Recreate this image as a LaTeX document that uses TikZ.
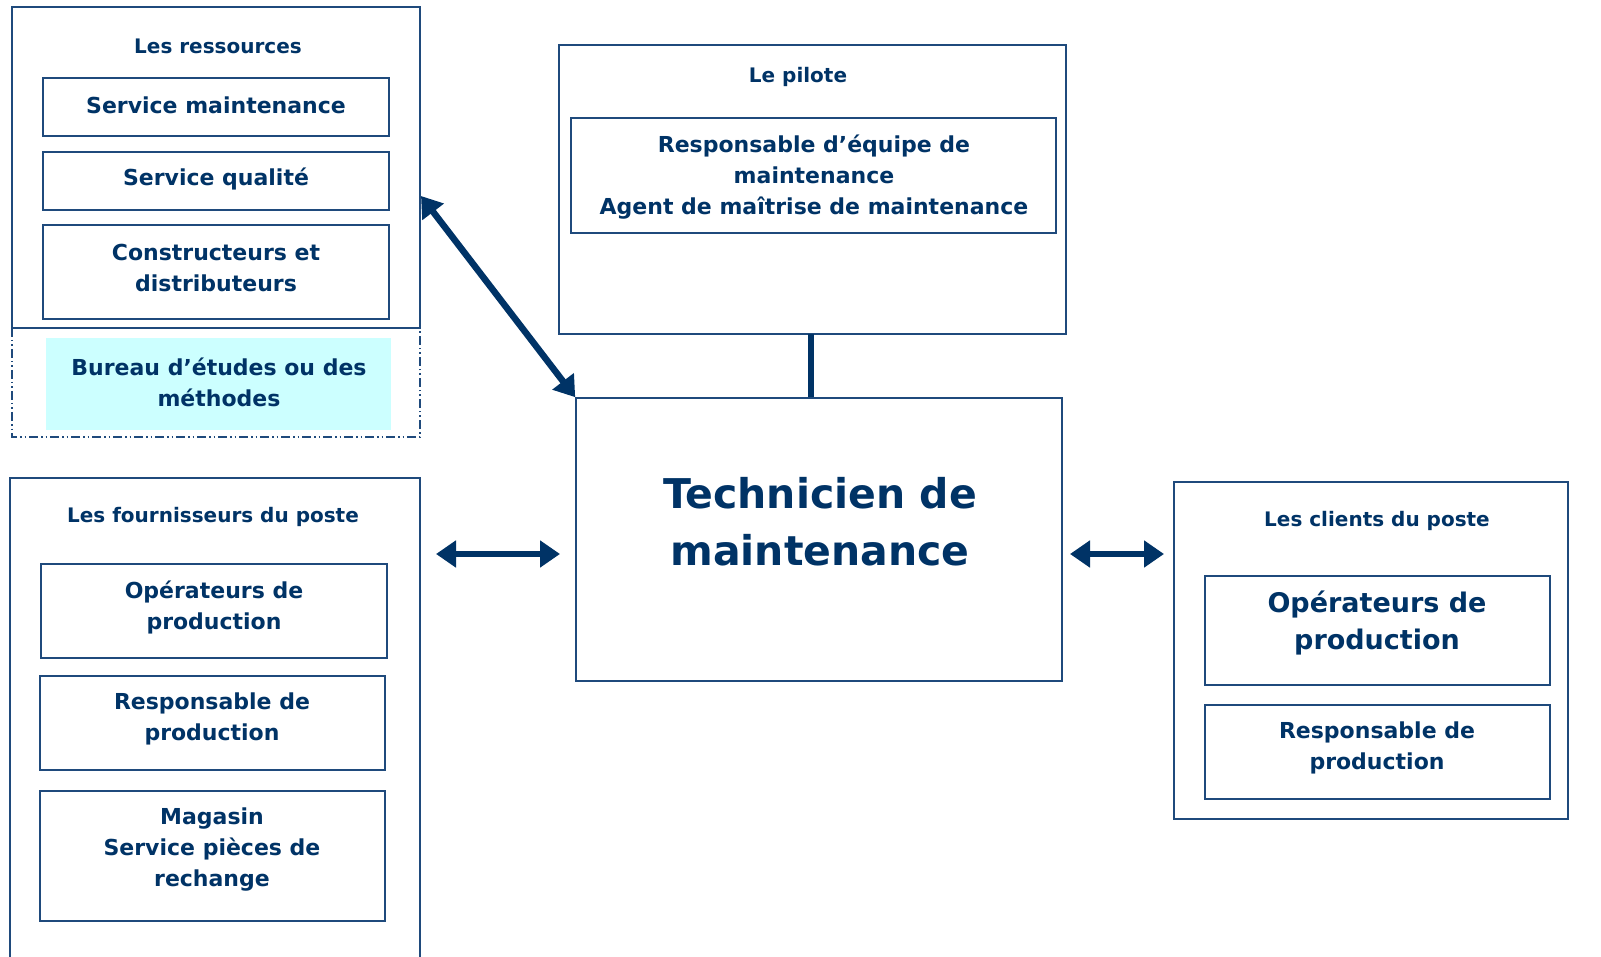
\documentclass[tikz,border=0pt]{standalone}
\usepackage{fontspec}
\setmainfont{DejaVu Sans}
\usetikzlibrary{arrows.meta}
\definecolor{navy}{HTML}{003366}
\definecolor{boxline}{HTML}{1F4A7C}
\definecolor{cyanfill}{HTML}{CCFFFF}
\tikzset{
  frame/.style={draw=boxline, line width=1.6pt},
  inbox/.style={draw=boxline, line width=1.6pt},
  lbl/.style={text=navy, font=\fontsize{20}{24}\selectfont\bfseries, anchor=center},
  txt/.style={text=navy, font=\fontsize{22}{31}\selectfont\bfseries, align=center, anchor=center},
  bigtxt/.style={text=navy, font=\fontsize{27}{37}\selectfont\bfseries, align=center, anchor=center},
  hugetxt/.style={text=navy, font=\fontsize{41}{57}\selectfont\bfseries, align=center, anchor=center},
  dblarrow/.style={draw=navy, line width=6.5pt, {Triangle[length=20pt,width=26pt]}-{Triangle[length=20pt,width=26pt]}},
}
\begin{document}
\begin{tikzpicture}[x=1pt,y=-1pt]
\useasboundingbox (0,0) rectangle (1601,957);
\fill[white] (0,0) rectangle (1601,957);

% Les ressources
\draw[frame] (12,7) rectangle (420,328);
\node[lbl] (resT) at (218,46) {Les ressources};
\draw[inbox] (43,78) rectangle (389,136);
\node[txt] (r1) at (216,105) {Service maintenance};
\draw[inbox] (43,152) rectangle (389,210);
\node[txt] (r2) at (216,179) {Service qualité};
\draw[inbox] (43,225) rectangle (389,319);
\node[txt] (r3) at (216,268) {Constructeurs et\\distributeurs};
\draw[draw=boxline, line width=1.6pt, dash pattern=on 9pt off 3pt on 1.5pt off 3pt on 1.5pt off 3pt] (12,328) rectangle (420,437);
\fill[cyanfill] (46,338) rectangle (391,430);
\node[txt] (r4) at (219,382) {Bureau d’études ou des\\méthodes};

% Le pilote
\draw[frame] (559,45) rectangle (1066,334);
\node[lbl] (pilT) at (798,77) {Le pilote};
\draw[inbox] (571,118) rectangle (1056,233);
\node[txt] (p1) at (814,177) {Responsable d’équipe de\\maintenance\\Agent de maîtrise de maintenance};

% Technicien
\node[draw=boxline, line width=1.6pt, minimum width=486pt, minimum height=283pt, inner sep=0pt] (tech) at (819,539.5) {};
\node[hugetxt] (techT) at (820,522) {Technicien de\\maintenance};

\coordinate (pilB) at (811,334);
\draw[navy, line width=6pt] (pilB) -- (pilB |- tech.north);

% Fournisseurs
\draw[frame] (10,957) -- (10,478) -- (420,478) -- (420,957);
\node[lbl] (fouT) at (213,517) {Les fournisseurs du poste};
\draw[inbox] (41,564) rectangle (387,658);
\node[txt] (f1) at (214,607) {Opérateurs de\\production};
\draw[inbox] (40,676) rectangle (385,770);
\node[txt] (f2) at (212,719) {Responsable de\\production};
\draw[inbox] (40,791) rectangle (385,921);
\node[txt] (f3) at (212,850) {Magasin\\Service pièces de\\rechange};

% Clients
\draw[frame] (1174,482) rectangle (1568,819);
\node[lbl] (cliT) at (1377,521) {Les clients du poste};
\draw[inbox] (1205,576) rectangle (1550,685);
\node[bigtxt] (c1) at (1377,623) {Opérateurs de\\production};
\draw[inbox] (1205,705) rectangle (1550,799);
\node[txt] (c2) at (1377,748) {Responsable de\\production};

% Arrows
\coordinate (a1) at (421,196);
\draw[dblarrow] (a1) -- (tech.north west);
\coordinate (a2) at (436,554);
\coordinate (a3) at (560,554);
\draw[dblarrow] (a2) -- (a3);
\coordinate (a4) at (1070,554);
\coordinate (a5) at (1164,554);
\draw[dblarrow] (a4) -- (a5);
\end{tikzpicture}
\end{document}
